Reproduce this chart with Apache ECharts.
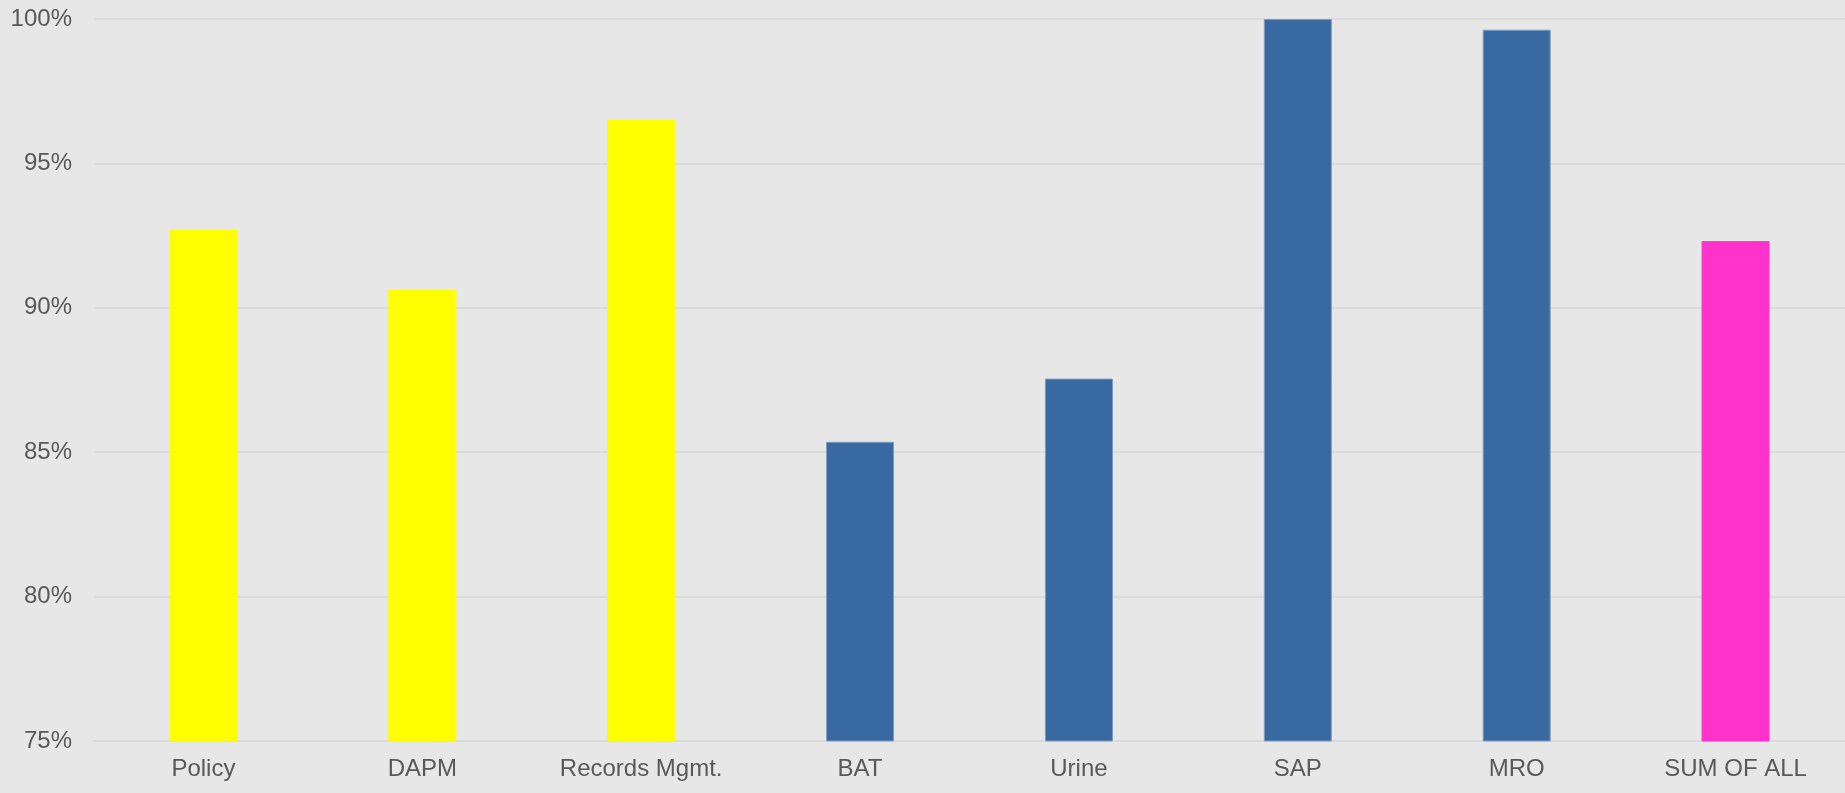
<!DOCTYPE html>
<html>
<head>
<meta charset="utf-8">
<script src="https://cdn.jsdelivr.net/npm/echarts@6/dist/echarts.min.js"></script>
<style>
html,body{margin:0;padding:0;background:#e7e7e7;}
#chart{width:1845px;height:793px;}
</style>
</head>
<body>
<div id="chart"></div>
<script>
const categories = ['Policy', 'DAPM', 'Records Mgmt.', 'BAT', 'Urine', 'SAP', 'MRO', 'SUM OF ALL'];
const values = [92.69, 90.63, 96.52, 85.36, 87.55, 100, 99.63, 92.31];
const groups = ['yellow', 'yellow', 'yellow', 'blue', 'blue', 'blue', 'blue', 'pink'];
const yTicks = { min: 75, max: 100, step: 5 };

const palette = {
  yellow: { color: '#ffff00', borderColor: '#ffff00' },
  blue: { color: '#3869a1', borderColor: '#7e9dc3' },
  pink: { color: '#ff33cc', borderColor: '#ff33cc' }
};

const chart = echarts.init(document.getElementById('chart'));
chart.setOption({
  backgroundColor: '#e7e7e7',
  animation: false,
  grid: { left: 94, right: -2, top: 19, bottom: 52, containLabel: false },
  xAxis: {
    type: 'category',
    data: categories,
    axisTick: { show: false },
    axisLine: { show: true, lineStyle: { color: '#d9d9d9', width: 1.5 } },
    axisLabel: { color: '#595959', fontSize: 24, fontFamily: 'Liberation Sans, Arial, sans-serif', margin: 16 }
  },
  yAxis: {
    type: 'value',
    min: yTicks.min,
    max: yTicks.max,
    interval: yTicks.step,
    axisLine: { show: false },
    axisTick: { show: false },
    splitLine: { lineStyle: { color: '#d9d9d9', width: 1.5 } },
    axisLabel: { color: '#595959', fontSize: 24, fontFamily: 'Liberation Sans, Arial, sans-serif', margin: 22, formatter: '{value}%' }
  },
  series: [{
    type: 'bar',
    barWidth: 68,
    data: values.map((v, i) => ({
      value: v,
      itemStyle: { color: palette[groups[i]].color, borderColor: palette[groups[i]].borderColor, borderWidth: 1 }
    }))
  }]
});
</script>
</body>
</html>
